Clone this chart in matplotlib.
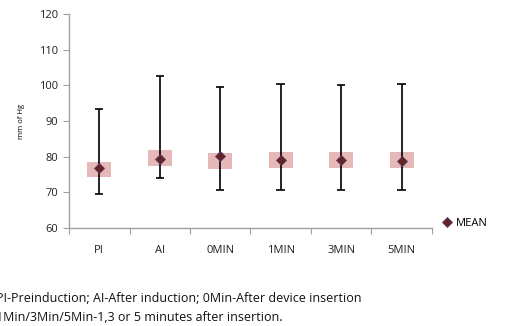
import matplotlib
matplotlib.use('Agg')
import matplotlib.pyplot as plt

### DATA
CATEGORIES = ['PI', 'AI', '0MIN', '1MIN', '3MIN', '5MIN']
HIGH = [93.3, 102.6, 99.4, 100.4, 100.2, 100.4]
LOW = [69.4, 74.0, 70.7, 70.7, 70.7, 70.7]
BOX_TOP = [78.5, 81.8, 80.9, 81.3, 81.3, 81.3]
BOX_BOTTOM = [74.3, 77.4, 76.5, 76.8, 76.8, 76.8]
MEAN = [76.9, 79.3, 80.1, 79.1, 79.1, 78.8]

FOOTNOTE = ['PI-Preinduction; AI-After induction; 0Min-After device insertion',
            '1Min/3Min/5Min-1,3 or 5 minutes after insertion.']

plt.rcParams['font.family'] = ['Open Sans', 'DejaVu Sans']

fig = plt.figure(figsize=(5.09, 3.26), dpi=100)
ax = fig.add_axes([0.1356, 0.3006, 0.713, 0.6564])

xs = [i + 0.5 for i in range(len(CATEGORIES))]

# pink boxes
ax.bar(xs, [t - b for t, b in zip(BOX_TOP, BOX_BOTTOM)], bottom=BOX_BOTTOM,
       width=0.4, color='#E6B9B8', zorder=1)

# high-low whiskers
ax.vlines(xs, LOW, HIGH, color='black', lw=1.2, zorder=2)
ax.hlines(HIGH, [x - 0.07 for x in xs], [x + 0.07 for x in xs], color='black', lw=1.2, zorder=2)
ax.hlines(LOW, [x - 0.07 for x in xs], [x + 0.07 for x in xs], color='black', lw=1.2, zorder=2)

ax.plot(xs, MEAN, ls='none', marker='D', ms=5.5, mfc='#632523', mec='#5B3A6E',
        mew=0.6, zorder=3, label='MEAN')

ax.set_xlim(0, len(CATEGORIES))
ax.set_ylim(60, 120)
ax.set_yticks(range(60, 121, 10))
ax.set_xticks(range(0, len(CATEGORIES) + 1))
ax.set_xticklabels([])
ax.set_xticks(xs, minor=True)
ax.set_xticklabels(CATEGORIES, minor=True)

for s in ['top', 'right']:
    ax.spines[s].set_visible(False)
for s in ['left', 'bottom']:
    ax.spines[s].set_color('#A0A0A0')
    ax.spines[s].set_linewidth(1.0)

ax.tick_params(axis='y', which='major', length=4, color='#A0A0A0', labelsize=8,
               labelcolor='#222222', pad=4)
ax.tick_params(axis='x', which='major', length=4, color='#A0A0A0')
ax.tick_params(axis='x', which='minor', length=0, labelsize=8, labelcolor='#222222', pad=12)

ax.set_ylabel('mm of Hg', fontsize=5.5, labelpad=10)

ax.legend(loc='center left', bbox_to_anchor=(1.02, 0.02), frameon=False, fontsize=8,
          handlelength=0.6, handletextpad=0.5, borderaxespad=0)

fig.text(-0.008, 0.085, FOOTNOTE[0], fontsize=9, color='#111111', va='center')
fig.text(-0.008, 0.027, FOOTNOTE[1], fontsize=9, color='#111111', va='center')

fig.savefig('out.png', dpi=100)
